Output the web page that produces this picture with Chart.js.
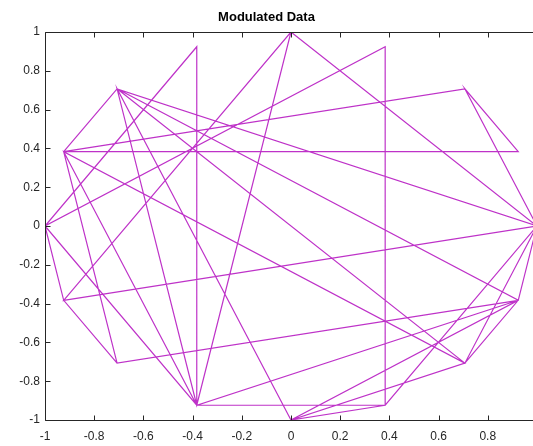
<!doctype html>
<html lang="en">
  <head>
    <meta charset="utf-8">
    <script src="https://cdn.jsdelivr.net/npm/chart.js@4.4.1/dist/chart.umd.min.js"></script>
    <title>Modulated Data</title>
    <style>
      html, body { margin: 0; padding: 0; background: #fff; overflow: hidden; }
      #modChart { display: block; }
    </style>
  </head>
  <body>
    <canvas id="modChart" width="533" height="446"></canvas>

  <script>

    // 16-PSK symbols in the order they were sent (in-phase / quadrature)
    let symbolI = [-0.707, -0.924, -1, -0.383, -0.383, 0.383, 0.383, -1, -0.383, 0,
                   -0.924, 1, 0.707, 0.924, -0.924, 0.707, 1, -0.707, -0.924, -0.707,
                   0.924, -0.383, -0.924, 0.707, 0, -0.707, -0.383, 0, 1, 0.383,
                   0, 0.924, 1, 0.707, -0.707, 0.924, 0.707];
    let symbolQ = [-0.707, -0.383, 0, 0.924, -0.924, -0.924, 0.924, 0, -0.924, 1,
                   -0.383, 0, 0.707, 0.383, 0.383, 0.707, 0, 0.707, 0.383, -0.707,
                   -0.383, -0.924, 0.383, -0.707, -1, 0.707, -0.924, 1, 0, -0.924,
                   -1, -0.383, 0, -0.707, 0.707, -0.383, -0.707];

    // the original figure is cropped just before x = 1
    let xTicks = [-1, -0.8, -0.6, -0.4, -0.2, 0, 0.2, 0.4, 0.6, 0.8];
    let yTicks = [-1, -0.8, -0.6, -0.4, -0.2, 0, 0.2, 0.4, 0.6, 0.8, 1];
    let xVisibleMax = 0.984;

    let points = symbolI.map((v, i) => ({ x: v, y: symbolQ[i] }));

    const axisColor = '#262626';

    // matlab style axes (left, bottom, top) with inward ticks
    const boxAxes = {
      id: 'boxAxes',
      afterDraw(chart) {
        const { ctx, chartArea: a, scales } = chart;
        let left = Math.round(a.left) + 0.5;
        let top = Math.round(a.top) + 0.5;
        let bottom = Math.round(a.bottom) + 0.5;
        ctx.save();
        ctx.strokeStyle = axisColor;
        ctx.lineWidth = 1;
        ctx.beginPath();
        ctx.moveTo(a.right + 2, top); ctx.lineTo(left, top);
        ctx.lineTo(left, bottom); ctx.lineTo(a.right + 2, bottom);
        xTicks.forEach(v => {
          let px = Math.round(scales.x.getPixelForValue(v)) + 0.5;
          ctx.moveTo(px, bottom); ctx.lineTo(px, bottom - 5);
          ctx.moveTo(px, top); ctx.lineTo(px, top + 5);
        });
        yTicks.forEach(v => {
          let py = Math.round(scales.y.getPixelForValue(v)) + 0.5;
          ctx.moveTo(left, py); ctx.lineTo(left + 5, py);
        });
        ctx.stroke();
        ctx.restore();
      }
    };

    let canvas = document.getElementById('modChart').getContext('2d');

    var chart = new Chart(canvas, {
      type: 'scatter',
      data: {
        datasets: [
          {
            label: 'Modulated Data',
            data: points,
            showLine: true,
            borderColor: 'rgb(190,50,200)',
            borderWidth: 1.2,
            pointRadius: 0,
            tension: 0
          }
        ]
      },
      options: {
        responsive: false,
        animation: false,
        layout: { padding: 0 },
        plugins: {
          legend: { display: false },
          tooltip: { enabled: false },
          title: {
            display: true,
            text: 'Modulated Data',
            color: '#000',
            font: { family: 'Liberation Sans', size: 13, weight: 'bold' },
            padding: { top: 10, bottom: 6.4 }
          }
        },
        scales: {
          x: {
            type: 'linear',
            min: -1,
            max: xVisibleMax,
            afterBuildTicks: s => { s.ticks = xTicks.map(v => ({ value: v })); },
            afterFit: s => { s.height = 26; },
            grid: { display: false, drawTicks: false },
            border: { display: false },
            ticks: {
              color: axisColor,
              padding: 9,
              maxRotation: 0,
              autoSkip: false,
              font: { family: 'Liberation Sans', size: 12 },
              callback: v => String(v)
            }
          },
          y: {
            type: 'linear',
            min: -1,
            max: 1,
            afterBuildTicks: s => { s.ticks = yTicks.map(v => ({ value: v })); },
            afterFit: s => { s.width = 45; },
            grid: { display: false, drawTicks: false },
            border: { display: false },
            ticks: {
              color: axisColor,
              padding: 5,
              autoSkip: false,
              font: { family: 'Liberation Sans', size: 12 },
              callback: v => String(v)
            }
          }
        }
      },
      plugins: [boxAxes]
    });

  </script>
  </body>
</html>
